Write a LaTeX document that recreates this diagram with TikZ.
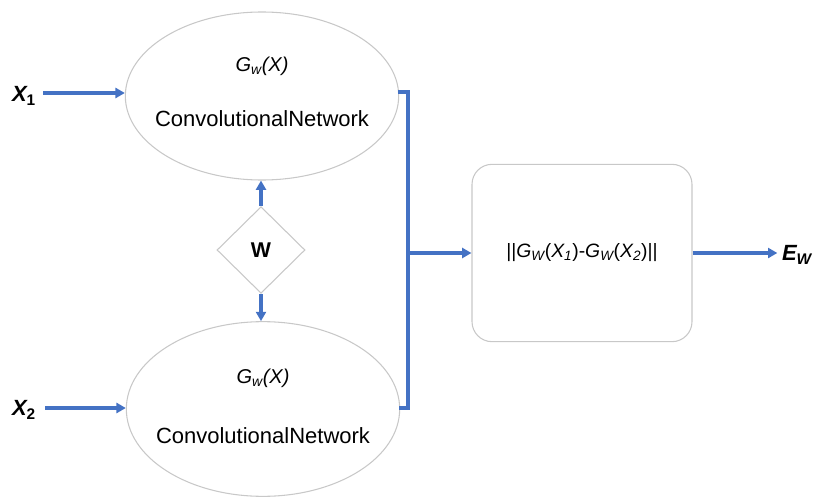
\documentclass[tikz,border=0pt]{standalone}
\usepackage{fontspec}
\setmainfont{Liberation Sans}
\usetikzlibrary{shapes.geometric,arrows.meta,calc}
\definecolor{flow}{RGB}{68,114,196}
\definecolor{rim}{RGB}{200,200,200}
\begin{document}
\begin{tikzpicture}[x=0.75pt,y=-0.75pt,
  net/.style={ellipse,draw=rim,line width=0.8pt,inner sep=0pt},
  tieshape/.style={diamond,draw=rim,line width=0.8pt,inner sep=0pt,minimum width=66pt,minimum height=65pt},
  distbox/.style={rectangle,draw=rim,line width=0.8pt,rounded corners=15pt,minimum width=165pt,minimum height=133pt},
  flowline/.style={draw=flow,line width=2.4pt},
  flowarrow/.style={flowline,-{Triangle[length=7pt,width=7.5pt]}},
  gtext/.style={font=\fontsize{15}{18}\selectfont\itshape},
  ntext/.style={font=\fontsize{16.5}{20}\selectfont},
  iolabel/.style={font=\fontsize{16.5}{20}\selectfont\bfseries\itshape}
]
\useasboundingbox (0,0) rectangle (825,503);

% the two weight-sharing networks
\node[net,minimum width=205pt,minimum height=126pt] (e1) at (262,96) {};
\node[net,minimum width=205pt,minimum height=131pt] (e2) at (263,409) {};
\node[gtext] (g1) at ($(e1.center)+(0,-30)$) {G\textsubscript{w}(X)};
\node[ntext] (n1) at ($(e1.center)+(0,23)$) {ConvolutionalNetwork};
\node[gtext] (g2) at ($(e2.center)+(0,-31)$) {G\textsubscript{w}(X)};
\node[ntext] (n2) at ($(e2.center)+(0,27)$) {ConvolutionalNetwork};

% shared weights
\node[tieshape,font=\fontsize{16}{19}\selectfont\bfseries] (w) at (261,250) {W};

% distance block
\node[distbox,font=\fontsize{14.5}{18}\selectfont] (d) at (582,253)
  {||\textit{G\textsubscript{W}}(\textit{X\textsubscript{1}})-\textit{G\textsubscript{W}}(\textit{X\textsubscript{2}})||};

% inputs and output
\node[iolabel] (x1) at (24,96) {X\textsubscript{\upshape 1}};
\node[iolabel] (x2) at (24,410) {X\textsubscript{\upshape 2}};
\node[iolabel] (ew) at (797,255) {E\textsubscript{W}};

\coordinate (s1) at (43,93);
\coordinate (s2) at (45,408);
\coordinate (jt) at (408,92);
\coordinate (jb) at (408,408);
\coordinate (jm) at (408,253);

\draw[flowarrow] (s1) -- (s1 -| e1.west);
\draw[flowarrow] (s2) -- (s2 -| e2.west);
\draw[flowarrow] (w.north) -- (w.north |- e1.south);
\draw[flowarrow] (w.south) -- (w.south |- e2.north);
\draw[flowline] ($(e1.east)+(-1,-4)$) -- (jt) -- (jb) -- ($(e2.east)+(-1,-1)$);
\draw[flowarrow] (jm) -- (d.west);
\draw[flowarrow] (d.east) -- (d.east -| ew.west);
\end{tikzpicture}
\end{document}
